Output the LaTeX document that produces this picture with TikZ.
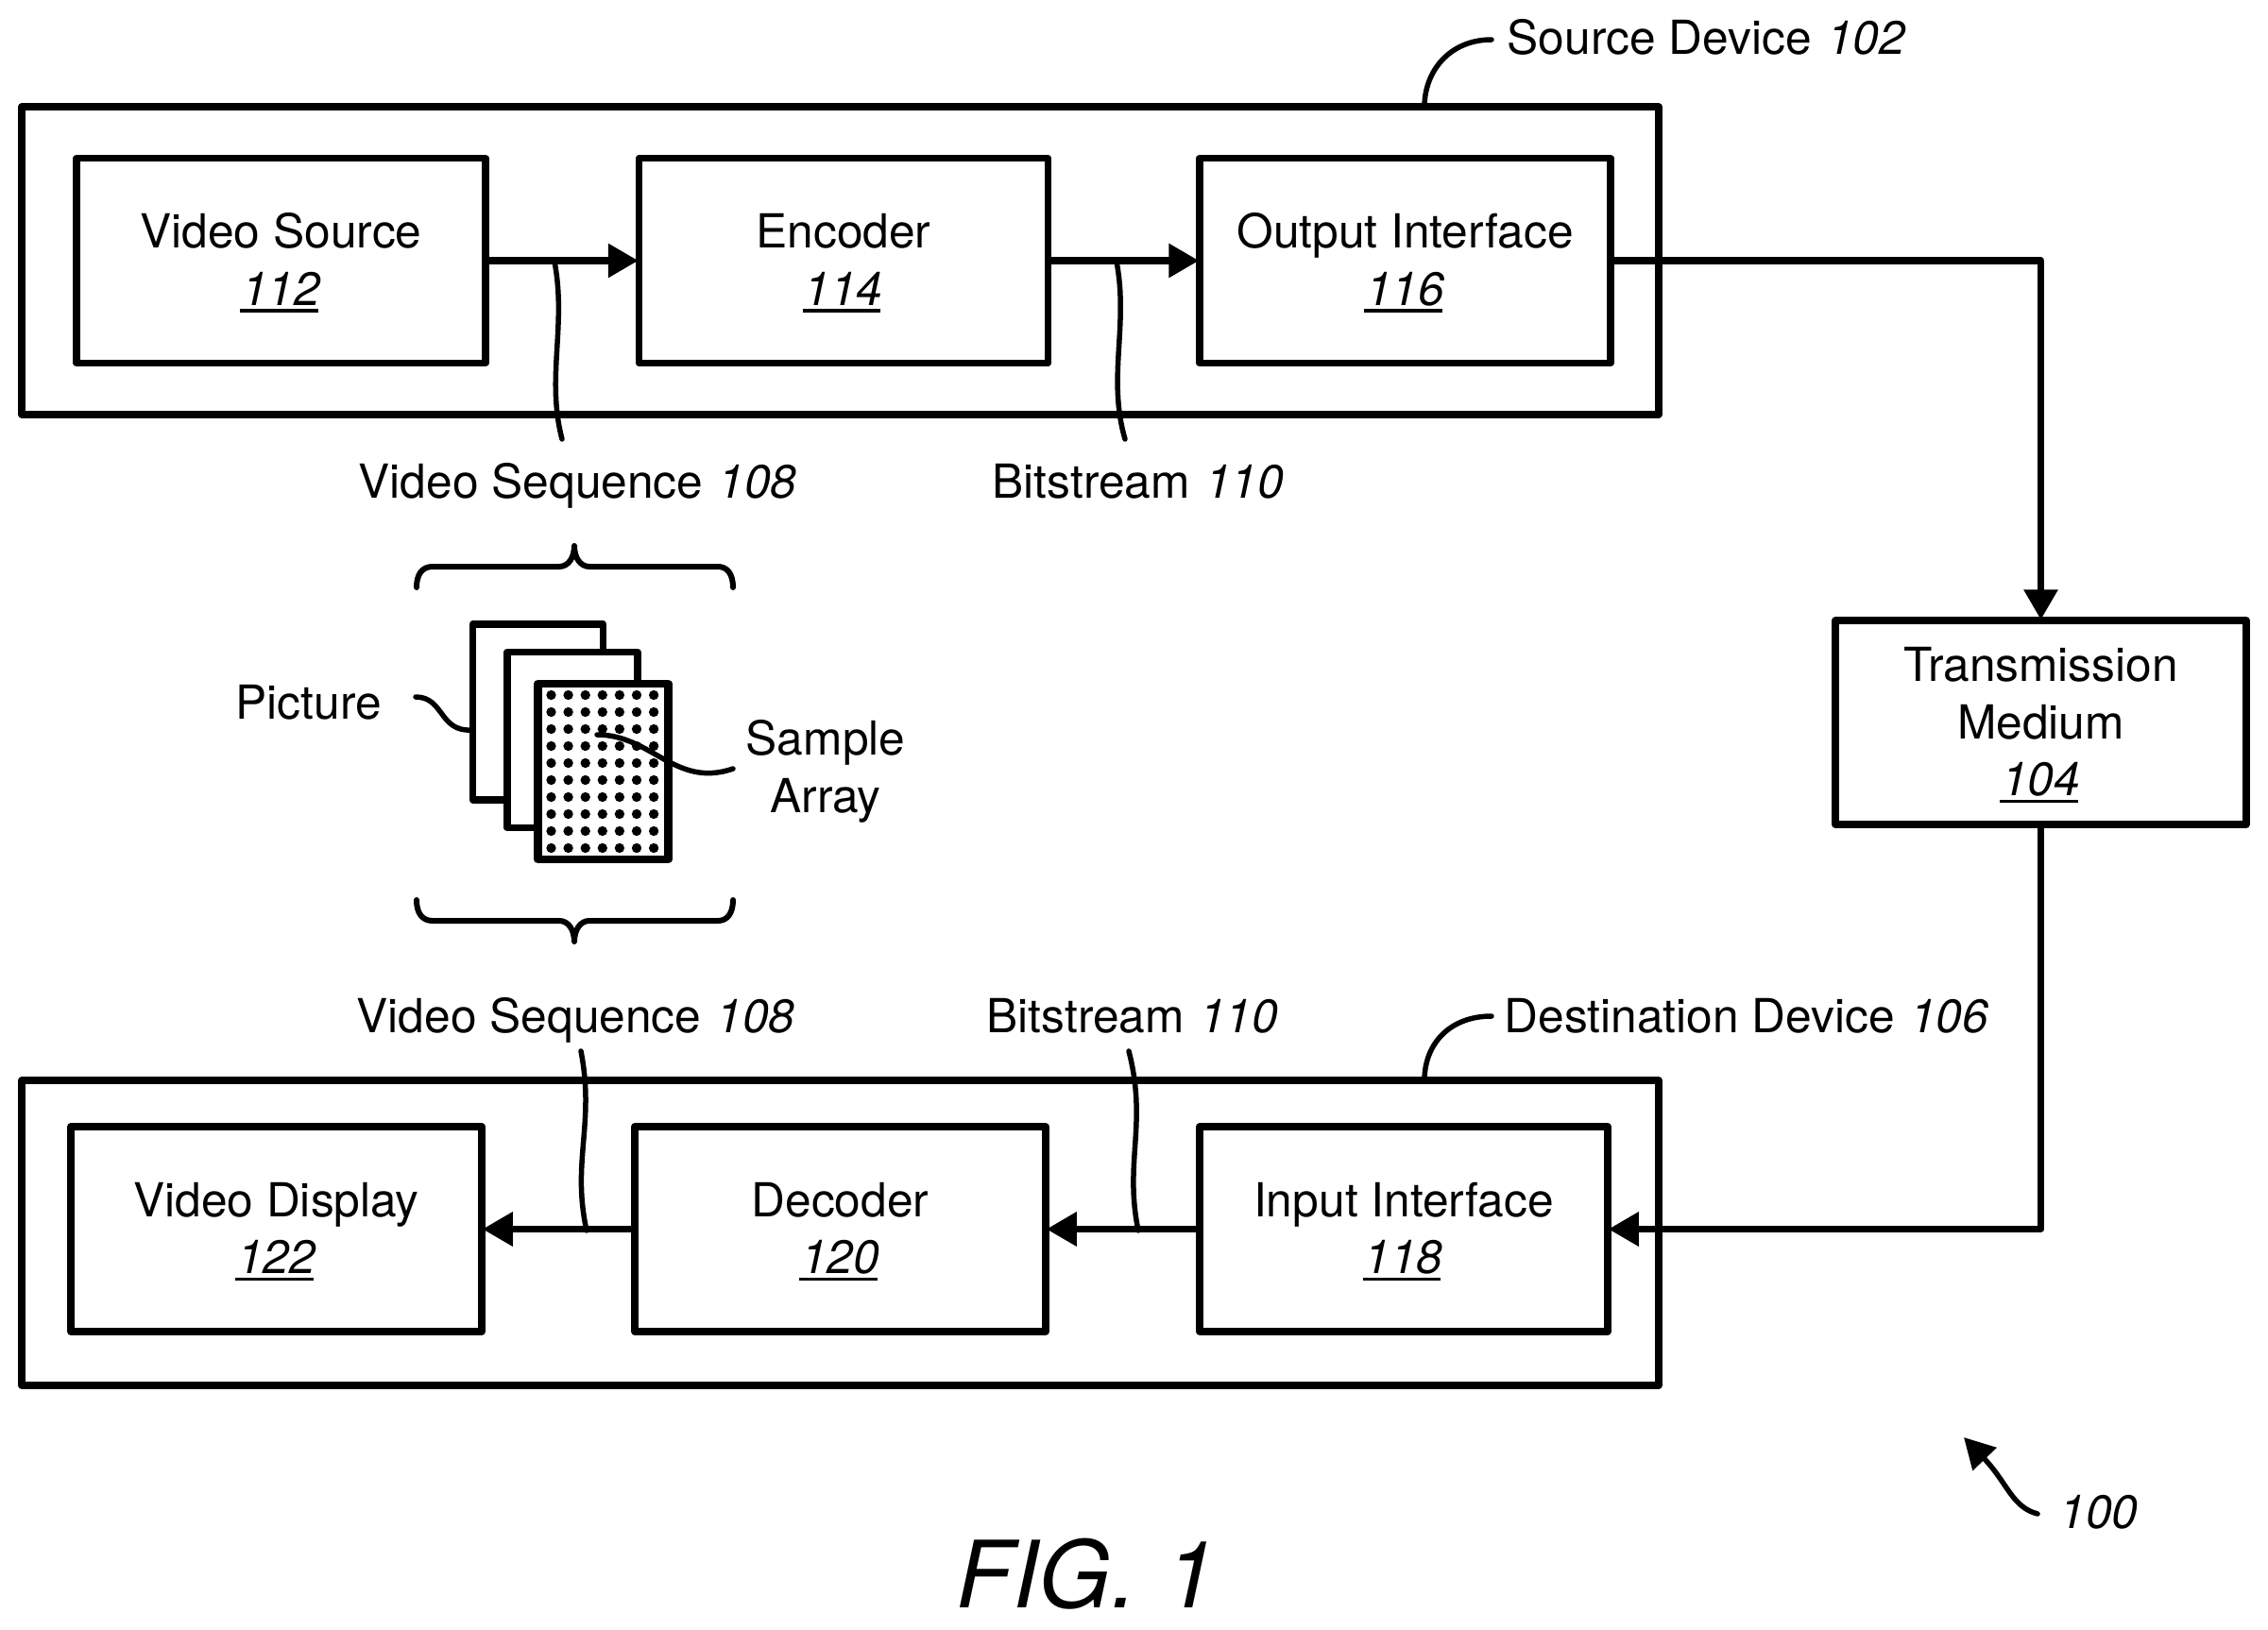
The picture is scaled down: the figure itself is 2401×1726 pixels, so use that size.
\documentclass[tikz,border=0pt]{standalone}
\usepackage{fontspec}
\setmainfont{TeX Gyre Heros}
\usetikzlibrary{arrows.meta}
\newcommand{\unum}[1]{\leavevmode\setbox0=\hbox{\itshape #1}\rlap{\kern-0.6pt\raisebox{-2.2pt}{\rule{\wd0}{0.95pt}}}\box0}
\newcommand{\fstrut}{\rule{0pt}{15.6pt}}
\newcommand{\lstrut}{\rule[-5.4pt]{0pt}{5.4pt}}
\newcommand{\gp}{\hspace{0.33em}}
\tikzset{
  x=0.3pt,y=-0.3pt,
  every node/.style={font=\fontsize{14.9pt}{18.15pt}\selectfont,text=black},
  outerbox/.style={draw,line width=2.2pt,line join=round,rectangle,inner sep=0pt},
  blockbox/.style={draw,line width=2.25pt,line join=round,rectangle,inner sep=0pt,align=center,fill=white},
  txt/.style={anchor=base west,inner sep=0pt},
  link/.style={line width=2.2pt,line join=round,shorten >=-0.9pt,-{Triangle[length=9.6pt,width=10.4pt]}},
  leader/.style={line width=1.65pt,line cap=round},
  brace/.style={line width=1.8pt,line cap=round,line join=round},
  card/.style={draw,line width=2.2pt,line join=round,fill=white,rectangle,inner sep=0pt,minimum width=41.4pt,minimum height=55.8pt}
}
\begin{document}
\begin{tikzpicture}
\useasboundingbox (0,0) rectangle (2401,1726);
% outer devices
\node[outerbox,minimum width=519.9pt,minimum height=97.8pt] (srcdev) at (889.5,276) {};
\node[outerbox,minimum width=519.9pt,minimum height=96.9pt] (dstdev) at (889.5,1305.5) {};
% blocks
\node[blockbox,minimum width=129.9pt,minimum height=65.1pt] (vsrc) at (297.5,276) {\fstrut Video Source\\\unum{112}\lstrut};
\node[blockbox,minimum width=129.9pt,minimum height=65.1pt] (enc) at (893,276) {\fstrut Encoder\\\unum{114}\lstrut};
\node[blockbox,minimum width=130.5pt,minimum height=65.1pt] (out) at (1487.5,276) {\fstrut Output Interface\\\unum{116}\lstrut};
\node[blockbox,minimum width=130.5pt,minimum height=64.8pt] (tm) at (2160.5,765) {\fstrut Transmission\\Medium\\\unum{104}\lstrut};
\node[blockbox,minimum width=130.5pt,minimum height=65.1pt] (vdisp) at (292.5,1301.5) {\fstrut Video Display\\\unum{122}\lstrut};
\node[blockbox,minimum width=130.5pt,minimum height=65.1pt] (dec) at (889.5,1301.5) {\fstrut Decoder\\\unum{120}\lstrut};
\node[blockbox,minimum width=129.6pt,minimum height=65.1pt] (inp) at (1486,1301.5) {\fstrut Input Interface\\\unum{118}\lstrut};
% connectors
\draw[link] (vsrc.east) -- (enc.west);
\draw[link] (enc.east) -- (out.west);
\draw[link] (out.east) -| (tm.north);
\draw[link] (tm.south) |- (inp.east);
\draw[link] (inp.west) -- (dec.east);
\draw[link] (dec.west) -- (vdisp.east);
% labels
\node[txt] (lblsrc) at (1595,58) {Source Device\gp\textit{102}};
\node[txt] (lbldst) at (1592,1093) {Destination Device\gp\textit{106}};
\node[txt] (lblvs1) at (379,527) {Video Sequence\gp\textit{108}};
\node[txt] (lblbs1) at (1050,527) {Bitstream\gp\textit{110}};
\node[txt] (lblvs2) at (377,1093) {Video Sequence\gp\textit{108}};
\node[txt] (lblbs2) at (1044,1093) {Bitstream\gp\textit{110}};
\node[txt] (lblpic) at (249,761) {Picture};
\node[anchor=base,inner sep=0pt,align=center] (lblsam) at (874,860) {Sample\\Array};
\node[txt] (lbl100) at (2180,1618) {\textit{100}};
\node[anchor=base,inner sep=0pt,font=\fontsize{29.5pt}{30pt}\selectfont\itshape] (fig) at (1150,1702) {FIG.\hspace{0.3em}1};
% picture stack
\node[card] (c1) at (569.5,754) {};
\node[card] (c2) at (606,783.5) {};
\node[card,line width=2.6pt] (c3) at (638.5,817) {};
\foreach \i in {0,...,6}{\foreach \j in {0,...,9}{
  \fill ({583.5+\i*18.1},{736+\j*18}) circle[radius=1.55pt];
}}
% braces
\draw[brace] (441,622) .. controls (441,608) and (447,600) .. (458,600) -- (592,600) .. controls (602,600) and (608,590) .. (608,578) .. controls (608,590) and (614,600) .. (624,600) -- (760,600) .. controls (770,600) and (776,608) .. (776,622);
\draw[brace] (441,953) .. controls (441,967) and (447,975) .. (458,975) -- (592,975) .. controls (602,975) and (608,985) .. (608,997) .. controls (608,985) and (614,975) .. (624,975) -- (760,975) .. controls (770,975) and (776,967) .. (776,953);
% leaders
\coordinate (s0) at (1508,113); \coordinate (s1) at (1579,42);
\coordinate (d0) at (1508,1144); \coordinate (d1) at (1579,1076);
\coordinate (va) at (587,277); \coordinate (vb) at (595,465);
\coordinate (ba) at (1182,277); \coordinate (bb) at (1191,465);
\coordinate (wa) at (615,1113); \coordinate (wb) at (621,1303);
\coordinate (xa) at (1195,1113); \coordinate (xb) at (1205,1303);
\coordinate (pa) at (440,738); \coordinate (pb) at (499,773);
\coordinate (qa) at (632,778); \coordinate (qb) at (776,814);
\coordinate (ha) at (2157,1603); \coordinate (hb) at (2079,1522);
\draw[leader] (s0) .. controls (1508,75) and (1535,42) .. (s1);
\draw[leader] (d0) .. controls (1508,1105) and (1535,1076) .. (d1);
\draw[leader] (va) .. controls (600,345) and (578,400) .. (vb);
\draw[leader] (ba) .. controls (1195,345) and (1172,400) .. (bb);
\draw[leader] (wa) .. controls (630,1190) and (605,1230) .. (wb);
\draw[leader] (xa) .. controls (1215,1190) and (1190,1230) .. (xb);
\draw[leader] (pa) .. controls (470,738) and (465,775) .. (pb);
\draw[leader] (qa) .. controls (690,778) and (715,835) .. (qb);
\draw[leader,line join=round,-{Triangle[length=9.6pt,width=10.2pt]}] (ha) .. controls (2130,1596) and (2125,1570) .. (hb);
\end{tikzpicture}
\end{document}
